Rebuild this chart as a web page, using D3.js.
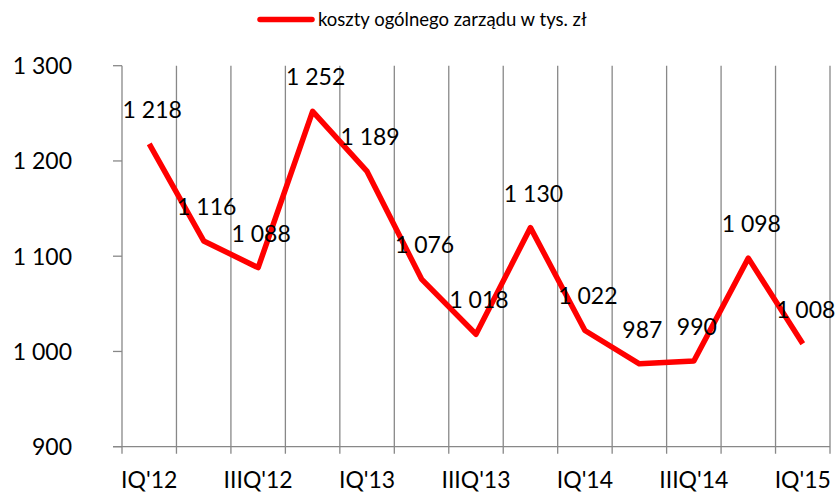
<!DOCTYPE html>
<meta charset="utf-8">
<style>
body { margin: 0; background: #fff; }
svg { display: block; font-family: Lato, "Open Sans", sans-serif; }
.axis-label { font-size: 23px; fill: #000; }
.value-label { font-size: 23px; fill: #000; text-anchor: middle; }
.legend-label { font-size: 18.5px; fill: #000; }
</style>
<script src="https://d3js.org/d3.v7.min.js"></script>
<body>
<svg width="835" height="492"></svg>
<script>

var quarters = ["IQ'12", "IIQ'12", "IIIQ'12", "IVQ'12", "IQ'13", "IIQ'13", "IIIQ'13",
                "IVQ'13", "IQ'14", "IIQ'14", "IIIQ'14", "IVQ'14", "IQ'15"];
var costs = [1218, 1116, 1088, 1252, 1189, 1076, 1018, 1130, 1022, 987, 990, 1098, 1008];
var yTicks = [900, 1000, 1100, 1200, 1300];
var seriesName = "koszty ogólnego zarządu w tys. zł";

var svg = d3.select("svg"),
    plotLeft = 122, plotRight = 830, plotTop = 65.7, plotBottom = 446.7,
    gridColor = "#888888";

var pl = d3.formatLocale({ decimal: ",", thousands: "\u00a0", grouping: [3], currency: ["", " zł"] });
var fmt = pl.format(",d");

var x = d3.scaleBand().domain(quarters).range([plotLeft, plotRight]);
var y = d3.scaleLinear().domain([900, 1300]).range([plotBottom, plotTop]);

// vertical gridlines at category boundaries
var edges = quarters.map(function(q) { return x(q); }).concat([plotRight]);
svg.append("g").selectAll("line")
  .data(edges)
  .enter().append("line")
    .attr("x1", function(d) { return d; })
    .attr("x2", function(d) { return d; })
    .attr("y1", plotTop)
    .attr("y2", plotBottom + 7)
    .attr("stroke", gridColor)
    .attr("stroke-width", 1.3);

// y axis ticks
svg.append("g").selectAll("line")
  .data(yTicks)
  .enter().append("line")
    .attr("x1", plotLeft - 9)
    .attr("x2", plotLeft)
    .attr("y1", function(d) { return y(d); })
    .attr("y2", function(d) { return y(d); })
    .attr("stroke", gridColor)
    .attr("stroke-width", 1.3);

// x axis line
svg.append("line")
  .attr("x1", plotLeft - 9).attr("x2", plotRight)
  .attr("y1", plotBottom).attr("y2", plotBottom)
  .attr("stroke", gridColor)
  .attr("stroke-width", 1.3);

// y tick labels
svg.append("g").selectAll("text")
  .data(yTicks)
  .enter().append("text")
    .attr("class", "axis-label")
    .attr("x", 72)
    .attr("y", function(d) { return y(d) + 8.5; })
    .attr("text-anchor", "end")
    .text(function(d) { return fmt(d); });

// x tick labels (every other quarter)
svg.append("g").selectAll("text")
  .data(quarters.filter(function(d, i) { return i % 2 === 0; }))
  .enter().append("text")
    .attr("class", "axis-label")
    .attr("x", function(d) { return x(d) + x.bandwidth() / 2; })
    .attr("y", 488)
    .attr("text-anchor", "middle")
    .text(function(d) { return d; });

// line
var line = d3.line()
  .x(function(d, i) { return x(quarters[i]) + x.bandwidth() / 2; })
  .y(function(d) { return y(d); });

svg.append("path")
  .datum(costs)
  .attr("fill", "none")
  .attr("stroke", "#ff0000")
  .attr("stroke-width", 5.5)
  .attr("stroke-linejoin", "round")
  .attr("d", line);

// value labels
svg.append("g").selectAll("text")
  .data(costs)
  .enter().append("text")
    .attr("class", "value-label")
    .attr("x", function(d, i) { return x(quarters[i]) + x.bandwidth() / 2 + 3; })
    .attr("y", function(d) { return y(d) - 26; })
    .text(function(d) { return fmt(d); });

// legend
svg.append("line")
  .attr("x1", 260).attr("x2", 312)
  .attr("y1", 19.5).attr("y2", 19.5)
  .attr("stroke", "#ff0000")
  .attr("stroke-width", 5.5)
  .attr("stroke-linecap", "round");

svg.append("text")
  .attr("class", "legend-label")
  .attr("x", 318)
  .attr("y", 26)
  .text(seriesName);

</script>
</body>
